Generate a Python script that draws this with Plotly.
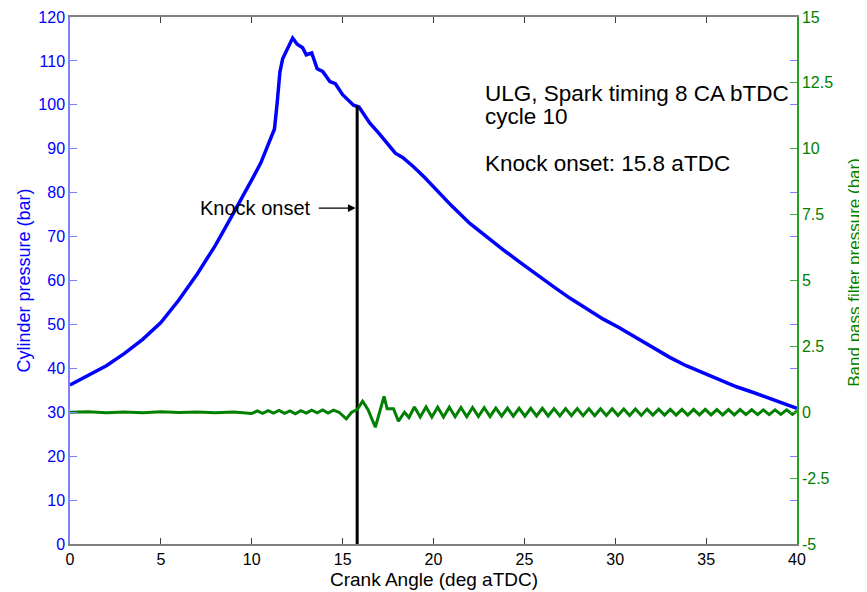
import plotly.graph_objects as go

# Cylinder pressure (bar) vs crank angle (deg aTDC)
crank_angle = [0, 1, 2, 3, 4, 5, 6, 7, 8, 9, 9.5, 10, 10.5, 11.0, 11.25, 11.4, 11.55, 11.7,
               12.0, 12.25, 12.5, 12.8, 13.0, 13.3, 13.6, 13.9, 14.3, 14.6, 15.0, 15.3, 15.6,
               15.9, 16.2, 16.5, 17.0, 17.4, 17.9, 18.3, 18.9, 19.5, 20.17, 21.0, 22.0, 23.0,
               23.84, 24.8, 25.67, 26.6, 27.5, 28.4, 29.34, 30.2, 31.17, 32.1, 33.0, 33.9,
               34.84, 35.8, 36.67, 37.6, 38.5, 39.3, 40.0]
cyl_pressure = [36.2, 38.3, 40.6, 43.4, 46.6, 50.4, 55.6, 61.5, 68.0, 75.4, 79.0, 82.9, 86.8,
                92.0, 94.5, 100.5, 107.5, 110.5, 113.0, 115.2, 113.8, 113.0, 111.4, 111.8, 108.2,
                107.6, 105.3, 104.8, 102.3, 101.2, 99.9, 99.5, 97.5, 95.8, 93.5, 91.5, 89.0,
                88.0, 85.9, 83.5, 80.6, 77.0, 73.0, 69.6, 67.0, 64.0, 61.3, 58.6, 56.0, 53.6,
                51.2, 49.3, 46.9, 44.6, 42.5, 40.6, 38.9, 37.3, 35.8, 34.5, 33.2, 32.0, 30.9]

# Band pass filtered pressure (bar)
bp_angle = [0, 1, 2, 3, 4, 5, 6, 7, 8, 9, 10, 10.3, 10.6, 10.9, 11.2, 11.5, 11.8, 12.1, 12.4,
            12.7, 13.0, 13.3, 13.6, 13.9, 14.2, 14.5, 14.8, 15.2, 15.5, 15.8, 16.1, 16.4, 16.8,
            17.0, 17.28, 17.45, 17.8, 18.07, 18.4, 18.65,
            18.95, 19.27, 19.59, 19.91, 20.23, 20.55, 20.87, 21.19, 21.51, 21.83, 22.15, 22.47,
            22.79, 23.11, 23.43, 23.75, 24.07, 24.39, 24.71, 25.03, 25.35, 25.67, 25.99, 26.31,
            26.63, 26.95, 27.27, 27.59, 27.91, 28.23, 28.55, 28.87, 29.19, 29.51, 29.83, 30.15,
            30.47, 30.79, 31.11, 31.43, 31.75, 32.07, 32.39, 32.71, 33.03, 33.35, 33.67, 33.99,
            34.31, 34.63, 34.95, 35.27, 35.59, 35.91, 36.23, 36.55, 36.87, 37.19, 37.51, 37.83,
            38.15, 38.47, 38.79, 39.11, 39.43, 39.75, 40.0]
bp_pressure = [0, 0.02, -0.02, 0.01, -0.02, 0.02, -0.01, 0.01, -0.02, 0.01, -0.05, 0.05, -0.04,
               0.06, -0.03, 0.07, -0.04, 0.05, -0.06, 0.06, -0.03, 0.08, -0.02, 0.09, -0.03, 0.08,
               0.0, -0.25, 0.0, 0.1, 0.42, 0.1, -0.57, -0.1, 0.6, 0.13, 0.13, -0.34, 0.0, -0.2,
               0.2, -0.18, 0.2, -0.18, 0.19, -0.18, 0.19, -0.17, 0.18, -0.17, 0.18, -0.16, 0.17,
               -0.16, 0.16, -0.15, 0.16, -0.15, 0.15, -0.15, 0.15, -0.14, 0.15, -0.14, 0.14, -0.14,
               0.14, -0.13, 0.14, -0.13, 0.13, -0.13, 0.13, -0.12, 0.13,
               -0.12, 0.12, -0.12, 0.12, -0.12, 0.12, -0.11, 0.12, -0.11, 0.11, -0.11, 0.11, -0.11,
               0.11, -0.1, 0.11, -0.1, 0.1, -0.1, 0.1, -0.1, 0.1, -0.09, 0.1, -0.09, 0.09, -0.09,
               0.09, -0.08, 0.09, -0.08, 0.05]

knock_onset = 15.8
knock_line_top = 99.8
knock_arrow_y = 76.5
knock_arrow_tail = 13.6

x_ticks = [0, 5, 10, 15, 20, 25, 30, 35, 40]
y_left_ticks = [0, 10, 20, 30, 40, 50, 60, 70, 80, 90, 100, 110, 120]
y_right_ticks = [-5, -2.5, 0, 2.5, 5, 7.5, 10, 12.5, 15]
y_right_labels = ["-5", "-2.5", "0", "2.5", "5", "7.5", "10", "12.5", "15"]

info_lines = ["ULG, Spark timing 8 CA bTDC", "cycle 10", "Knock onset: 15.8 aTDC"]
info_y = [102.5, 97.3, 86.6]

FONT = "Liberation Sans, Arial, sans-serif"
BLUE = "#0000ff"
GREEN = "#008000"

fig = go.Figure()
fig.add_trace(go.Scatter(x=crank_angle, y=cyl_pressure, mode="lines",
                         line=dict(color=BLUE, width=3.5), yaxis="y"))
fig.add_trace(go.Scatter(x=bp_angle, y=bp_pressure, mode="lines",
                         line=dict(color=GREEN, width=3), yaxis="y2"))
fig.add_trace(go.Scatter(x=[knock_onset, knock_onset], y=[0, knock_line_top], mode="lines",
                         line=dict(color="black", width=3), yaxis="y"))

for txt, yy in zip(info_lines, info_y):
    fig.add_annotation(x=22.75, y=yy, xref="x", yref="y", text=txt, showarrow=False,
                       xanchor="left", yanchor="middle",
                       font=dict(family=FONT, size=22.5, color="black"))

fig.add_annotation(x=knock_onset - 0.08, y=knock_arrow_y, ax=knock_arrow_tail, ay=knock_arrow_y,
                   xref="x", yref="y", axref="x", ayref="y", text="", showarrow=True,
                   arrowhead=2, arrowsize=1.3, arrowwidth=1.2, arrowcolor="black")
fig.add_annotation(x=13.35, y=knock_arrow_y, xref="x", yref="y", text="Knock onset",
                   showarrow=False, xanchor="right", yanchor="middle",
                   font=dict(family=FONT, size=20, color="black"))

# axis titles
fig.add_annotation(x=0.5, y=-0.0665, xref="paper", yref="paper", text="Crank Angle (deg aTDC)",
                   showarrow=False, xanchor="center", yanchor="middle",
                   font=dict(family=FONT, size=19, color="black"))
fig.add_annotation(x=-0.0646, y=0.5, xref="paper", yref="paper", text="Cylinder pressure (bar)",
                   showarrow=False, xanchor="center", yanchor="middle", textangle=-90,
                   font=dict(family=FONT, size=18, color=BLUE))
fig.add_annotation(x=1.078, y=0.516, xref="paper", yref="paper",
                   text="Band pass filter pressure (bar)",
                   showarrow=False, xanchor="center", yanchor="middle", textangle=-90,
                   font=dict(family=FONT, size=17, color=GREEN))

fig.update_layout(
    width=867, height=592,
    margin=dict(l=62, r=78, t=9, b=56),
    paper_bgcolor="white", plot_bgcolor="white",
    showlegend=False,
    font=dict(family=FONT),
    xaxis=dict(range=[0, 40], tickvals=x_ticks, ticks="inside", ticklen=6,
               tickcolor="#404040", showline=True, linecolor="#808080", linewidth=1.5,
               mirror="ticks", showgrid=False, zeroline=False, automargin=False,
               tickfont=dict(size=16, color="black")),
    yaxis=dict(range=[0, 120], tickvals=y_left_ticks, ticks="inside", ticklen=7,
               tickcolor="#7f7fff", showline=True, linecolor="#8080ff", linewidth=1.5,
               mirror="ticks", showgrid=False, zeroline=False, automargin=False,
               tickfont=dict(size=16, color=BLUE)),
    yaxis2=dict(range=[-5, 15], tickvals=y_right_ticks, ticktext=y_right_labels,
                overlaying="y", side="right", ticks="inside", ticklen=7,
                tickcolor="#44aa44", showline=True, linecolor="#22a022", linewidth=1.5,
                showgrid=False, zeroline=False, automargin=False,
                tickfont=dict(size=16, color=GREEN)),
)

fig.write_html("out.html")
